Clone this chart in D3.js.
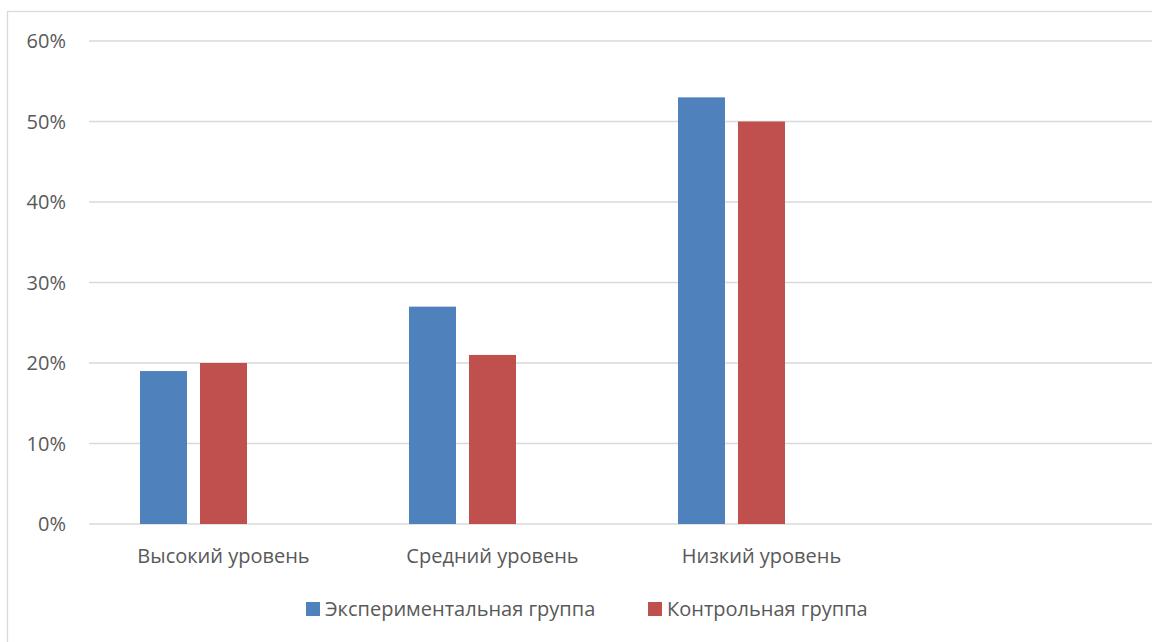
<!DOCTYPE html>
<html>
<head>
<meta charset="utf-8">
<script src="https://cdn.jsdelivr.net/npm/d3@7"></script>
<style>
  body { margin: 0; background: #fff; }
  svg { display: block; font-family: "Open Sans", sans-serif; }
</style>
</head>
<body>
<svg id="chart" width="1152" height="642"></svg>
<script>
// data
const categories = ["Высокий уровень", "Средний уровень", "Низкий уровень", ""];
const seriesNames = ["Экспериментальная группа", "Контрольная группа"];
const experimental = [0.19, 0.27, 0.53];
const control = [0.20, 0.21, 0.50];
const yTicks = [0, 0.1, 0.2, 0.3, 0.4, 0.5, 0.6];
const colors = ["#4F81BD", "#C0504D"];

const svg = d3.select("#chart");
const plotLeft = 89, plotTop = 41, plotBottom = 524;

// frame (cut off on right and bottom like the source)
svg.append("rect")
  .attr("x", 7.5).attr("y", 11.5)
  .attr("width", 1200).attr("height", 700)
  .attr("fill", "none")
  .attr("stroke", "#D9D9D9")
  .attr("stroke-width", 1.3);

const x = d3.scaleBand()
  .domain(categories.map((d, i) => i))
  .range([plotLeft, plotLeft + 269 * categories.length]);

// third slot is empty in the source cluster
const inner = d3.scaleBand()
  .domain([0, 1, 2])
  .range([51, 218])
  .paddingInner(13 / 60);

const y = d3.scaleLinear().domain([0, 0.6]).range([plotBottom, plotTop]);

// grid
svg.append("g")
  .selectAll("line")
  .data(yTicks)
  .join("line")
  .attr("x1", plotLeft)
  .attr("x2", 1200)
  .attr("y1", d => y(d))
  .attr("y2", d => y(d))
  .attr("stroke", "#D9D9D9")
  .attr("stroke-width", 1.3);

// y labels
svg.append("g")
  .selectAll("text")
  .data(yTicks)
  .join("text")
  .attr("x", 66)
  .attr("y", d => y(d))
  .attr("dy", "0.36em")
  .attr("text-anchor", "end")
  .attr("font-size", 20)
  .attr("fill", "#595959")
  .text(d3.format(".0%"));

// bars
const series = [experimental, control];
series.forEach((vals, s) => {
  svg.append("g")
    .selectAll("rect")
    .data(vals)
    .join("rect")
    .attr("x", (d, i) => x(i) + inner(s))
    .attr("width", inner.bandwidth())
    .attr("y", d => y(d))
    .attr("height", d => y(0) - y(d))
    .attr("fill", colors[s]);
});

// category labels
svg.append("g")
  .selectAll("text")
  .data(categories)
  .join("text")
  .attr("x", (d, i) => x(i) + x.bandwidth() / 2)
  .attr("y", 563)
  .attr("text-anchor", "middle")
  .attr("font-size", 20)
  .attr("fill", "#595959")
  .text(d => d);

// legend
const legendX = [306, 648];
const legend = svg.append("g")
  .selectAll("g")
  .data(seriesNames)
  .join("g")
  .attr("transform", (d, i) => `translate(${legendX[i]},616)`);
legend.append("rect")
  .attr("x", 0).attr("y", -14)
  .attr("width", 14).attr("height", 14)
  .attr("fill", (d, i) => colors[i]);
legend.append("text")
  .attr("x", 19)
  .attr("font-size", 20)
  .attr("fill", "#595959")
  .text(d => d);
</script>
</body>
</html>
